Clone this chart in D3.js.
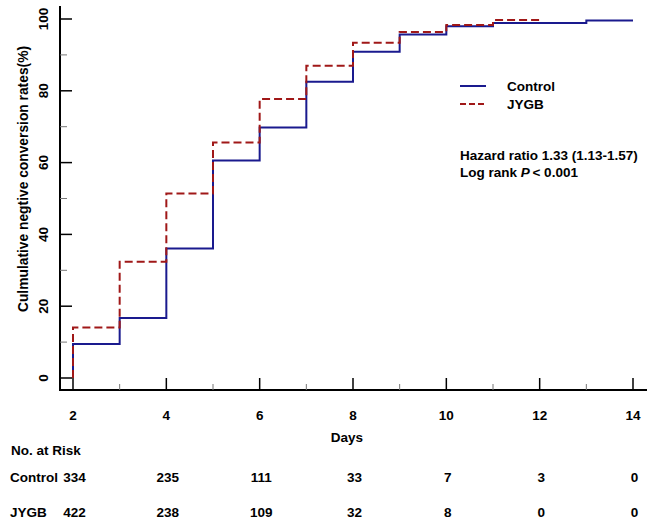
<!DOCTYPE html>
<html><head><meta charset="utf-8">
<script src="https://cdn.jsdelivr.net/npm/d3@7"></script>
<style>body{margin:0;background:#fff;} svg{display:block;} text{font-family:"Liberation Sans",Arial,sans-serif;font-weight:bold;fill:#000;}</style>
</head><body>
<svg id="c" width="653" height="526"></svg>
<script>
const controlDays = [2,3,4,5,6,7,8,9,10,11,13,14];
const controlVals = [9.5,16.7,36.1,60.6,69.8,82.5,90.9,95.7,98.0,98.9,99.6,99.6];
const jygbDays = [2,3,4,5,6,7,8,9,10,11,12];
const jygbVals = [14.1,32.4,51.4,65.6,77.7,87.0,93.4,96.4,98.3,99.7,99.7];
const xTicks = [2,4,6,8,10,12,14];
const yTicks = [0,20,40,60,80,100];
const riskDays = [2,4,6,8,10,12,14];
const riskControl = [334,235,111,33,7,3,0];
const riskJYGB = [422,238,109,32,8,0,0];

const svg = d3.select("#c");
const x = d3.scaleLinear().domain([2,14]).range([73,633]);
const y = d3.scaleLinear().domain([0,100]).range([378,19]);

function stepData(days, vals){
  const pts=[[days[0],0]];
  for(let i=0;i<vals.length;i++){ pts.push([days[i],vals[i]]); if(i+1<days.length) pts.push([days[i+1],vals[i]]); }
  return pts;
}
const line = d3.line().x(d=>x(d[0])).y(d=>y(d[1])).curve(d3.curveLinear);

// axes
svg.append("line").attr("x1",60).attr("x2",60).attr("y1",6).attr("y2",391).attr("stroke","#000").attr("stroke-width",2);
svg.append("line").attr("x1",59).attr("x2",647).attr("y1",390).attr("y2",390).attr("stroke","#000").attr("stroke-width",2);

const ya = svg.append("g");
d3.range(0,101,10).forEach(v=>{
  const major = v%20===0;
  ya.append("line").attr("x1",60).attr("x2",major?72:67).attr("y1",y(v)).attr("y2",y(v)).attr("stroke",major?"#000":"#777").attr("stroke-width",major?1.5:1);
});
yTicks.forEach(v=>{
  ya.append("text").attr("transform",`translate(48,${y(v)}) rotate(-90)`).attr("text-anchor","middle").attr("font-size",13.5).text(v);
});
const xa = svg.append("g");
d3.range(2,14.01,1).forEach(v=>{
  const major = v%2===0;
  xa.append("line").attr("x1",x(v)).attr("x2",x(v)).attr("y1",390).attr("y2",major?378:384).attr("stroke",major?"#000":"#777").attr("stroke-width",major?1.5:1);
});
xTicks.forEach(v=>{
  xa.append("text").attr("x",x(v)).attr("y",420).attr("text-anchor","middle").attr("font-size",13.5).text(v);
});
svg.append("text").attr("x",347).attr("y",442).attr("text-anchor","middle").attr("font-size",13.5).text("Days");
svg.append("text").attr("transform","translate(28,179) rotate(-90)").attr("text-anchor","middle").attr("font-size",13.8).text("Culmulative negtive conversion rates(%)");

// curves
svg.append("path").datum(stepData(controlDays,controlVals)).attr("d",line).attr("fill","none").attr("stroke","#1a1a8e").attr("stroke-width",2);
svg.append("path").datum(stepData(jygbDays,jygbVals)).attr("d",line).attr("fill","none").attr("stroke","#a01818").attr("stroke-width",2).attr("stroke-dasharray","8,4");

// legend
svg.append("line").attr("x1",460).attr("x2",486).attr("y1",86).attr("y2",86).attr("stroke","#1a1a8e").attr("stroke-width",2);
svg.append("line").attr("x1",460).attr("x2",486).attr("y1",104).attr("y2",104).attr("stroke","#a01818").attr("stroke-width",2).attr("stroke-dasharray","6,3");
svg.append("text").attr("x",507).attr("y",91).attr("font-size",13.5).text("Control");
svg.append("text").attr("x",507).attr("y",109).attr("font-size",13.5).text("JYGB");

svg.append("text").attr("x",460).attr("y",160).attr("font-size",13.5).text("Hazard ratio 1.33 (1.13-1.57)");
const t2 = svg.append("text").attr("x",460).attr("y",177).attr("font-size",13.5);
t2.append("tspan").text("Log rank ");
t2.append("tspan").attr("font-style","italic").text("P");
t2.append("tspan").text("\u2009< 0.001");

// risk table
svg.append("text").attr("x",11).attr("y",455).attr("font-size",13.5).text("No. at Risk");
svg.append("text").attr("x",10).attr("y",482).attr("font-size",13.5).text("Control");
svg.append("text").attr("x",10).attr("y",517).attr("font-size",13.5).text("JYGB");
riskDays.forEach((d,i)=>{
  svg.append("text").attr("x",x(d)+1.5).attr("y",482).attr("text-anchor","middle").attr("font-size",13.5).text(riskControl[i]);
  svg.append("text").attr("x",x(d)+1.5).attr("y",517).attr("text-anchor","middle").attr("font-size",13.5).text(riskJYGB[i]);
});
</script>
</body></html>
